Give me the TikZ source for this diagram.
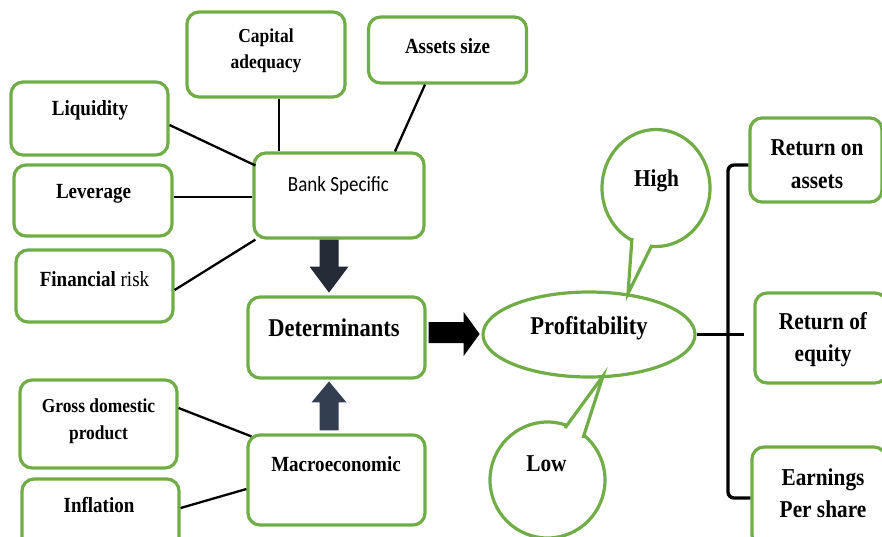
\documentclass[tikz,border=0pt]{standalone}
\usepackage{fontspec}
\setmainfont{Liberation Serif}[FakeStretch=0.88]
\newfontfamily\carl{Carlito}[FakeStretch=0.88]
\usetikzlibrary{shapes.geometric}
\definecolor{gr}{HTML}{70AD47}
\definecolor{arrdk}{HTML}{252B36}
\definecolor{arrsl}{HTML}{333F50}
\tikzset{
  gbox/.style={draw=gr, line width=3.2pt, rounded corners=12pt, fill=white, inner sep=0pt},
  lbl/.style={font=\bfseries\fontsize{21.6}{23}\selectfont, align=center, inner sep=0pt},
  lblsm/.style={font=\bfseries\fontsize{19.8}{26.5}\selectfont, align=center, inner sep=0pt},
  lblbig/.style={font=\bfseries\fontsize{25.6}{27}\selectfont, align=center, inner sep=0pt},
  lblr/.style={font=\bfseries\fontsize{24.2}{32.5}\selectfont, align=center, inner sep=0pt},
  conn/.style={line width=2.3pt, black},
  bracket/.style={line width=3.4pt, black, rounded corners=6pt},
  bubble/.style={draw=gr, line width=3.2pt, fill=white, ellipse, inner sep=0pt},
}
\begin{document}
\begin{tikzpicture}[x=1pt,y=-1pt]
\useasboundingbox (0,0) rectangle (882,536);
\clip (0,0) rectangle (882,536);
\fill[white] (0,0) rectangle (882,536);

% boxes
\node[gbox, minimum width=158pt, minimum height=85pt] (cap) at (266,54.5) {};
\node[gbox, minimum width=158pt, minimum height=66pt] (ast) at (447.5,50) {};
\node[gbox, minimum width=157pt, minimum height=73pt] (liq) at (89.5,118.5) {};
\node[gbox, minimum width=158pt, minimum height=71pt] (lev) at (93,200.5) {};
\node[gbox, minimum width=157pt, minimum height=72pt] (fin) at (94.5,286) {};
\node[gbox, minimum width=170pt, minimum height=85pt] (bank) at (339,195.5) {};
\node[gbox, minimum width=177pt, minimum height=81pt] (det) at (336.5,337.5) {};
\node[gbox, minimum width=157pt, minimum height=88pt] (gdp) at (98.5,424) {};
\node[gbox, minimum width=157pt, minimum height=71pt] (inf) at (100.5,514.5) {};
\node[gbox, minimum width=177pt, minimum height=90pt] (mac) at (336.5,480) {};
\node[gbox, minimum width=132pt, minimum height=84pt] (roa) at (816,160) {};
\node[gbox, minimum width=132pt, minimum height=90pt] (roe) at (821,338) {};
\node[gbox, minimum width=134pt, minimum height=100pt] (eps) at (819,497) {};

% texts
\node[lblsm] (capt) at (266,51) {Capital\\adequacy};
\node[lbl] (astt) at (447.5,46) {Assets size};
\node[lbl] (liqt) at (90,110) {Liquidity};
\node[lbl] (levt) at (93.5,194) {Leverage};
\node[lbl] (fint) at (94.5,279) {Financial \mdseries risk};
\node[inner sep=0pt, font=\carl\fontsize{21.6}{23}\selectfont] (bankt) at (338.5,186) {Bank Specific};
\node[lblbig] (dett) at (334,328) {Determinants};
\node[lblsm] (gdpt) at (98.5,421) {Gross domestic\\product};
\node[lbl] (inft) at (99,505) {Inflation};
\node[lbl] (mact) at (336,464) {Macroeconomic};
\node[lblr] (roat) at (817,164) {Return on\\assets};
\node[lblr] (roet) at (823,339.5) {Return of\\equity};
\node[lblr] (epst) at (823,493) {Earnings\\Per share};

% connectors
\draw[conn] ([yshift=-6.5pt]liq.east) -- ([xshift=3pt,yshift=30pt]bank.west);
\draw[conn] ([yshift=3.5pt]lev.east) -- ([yshift=-1.5pt]bank.west);
\draw[conn] ([yshift=-4pt]fin.east) -- ([xshift=3pt]bank.south west);
\draw[conn] ([xshift=13pt]cap.south) -- ([xshift=13pt]cap.south |- bank.north);
\draw[conn] ([xshift=-22.5pt]ast.south) -- ([xshift=56pt]bank.north);
\draw[conn] ([yshift=16pt]gdp.east) -- ([xshift=5pt,yshift=-3pt]mac.north west);
\draw[conn] ([yshift=6.5pt]inf.east) -- ([yshift=-9pt]mac.west);

% block arrows
\fill[arrdk] ([xshift=-10pt]bank.south) ++(-9.5,0) -- ++(0,27) -- ++(-10,0) -- ++(19.5,26)
  -- ++(19.5,-26) -- ++(-10,0) -- ++(0,-27) -- cycle;
\fill[arrsl] ([xshift=-7.5pt,yshift=3pt]mac.north) ++(-9.5,0) -- ++(0,-28) -- ++(-8,0) -- ++(17.5,-21)
  -- ++(17.5,21) -- ++(-8,0) -- ++(0,28) -- cycle;
\fill[black] ([xshift=2pt]det.east) ++(0,-15.5) -- ++(35,0) -- ++(0,-10) -- ++(16,22)
  -- ++(-16,22) -- ++(0,-13) -- ++(-35,0) -- cycle;

% profitability
\node[bubble, minimum width=212pt, minimum height=85pt] (prof) at (589,334.5) {};
\node[lblbig] (proft) at (589,328) {Profitability};

% high bubble
\node[bubble, minimum width=108pt, minimum height=117pt] (high) at (656,188) {};
\coordinate (hA) at (632,238);
\coordinate (hB) at (652,245);
\coordinate (hT) at (628,293.5);
\fill[white] (hA) -- (hT) -- (hB) -- (643,228) -- cycle;
\draw[draw=gr, line width=3.2pt, line join=miter] (hA) -- (hT) -- (hB);
\node[lblr] (hight) at (656.5,181) {High};

% low bubble
\node[bubble, minimum width=115pt, minimum height=116pt] (low) at (547.5,480) {};
\coordinate (lA) at (565,428);
\coordinate (lB) at (583,438);
\coordinate (lT) at (603,376);
\fill[white] (lA) -- (lT) -- (lB) -- (570,440) -- cycle;
\draw[draw=gr, line width=3.2pt, line join=miter] (lA) -- (lT) -- (lB);
\node[lblr] (lowt) at (546.5,464) {Low};

% bracket
\coordinate (bx) at (728,0);
\draw[bracket] ([yshift=-5pt]roa.west) -- ([yshift=-5pt]roa.west -| bx) -- ([yshift=-1pt]eps.west -| bx) -- ([yshift=-1pt]eps.west);
\draw[line width=3.4pt] (prof.east) -- ([xshift=-9pt]roe.west |- prof.east);
\end{tikzpicture}
\end{document}
